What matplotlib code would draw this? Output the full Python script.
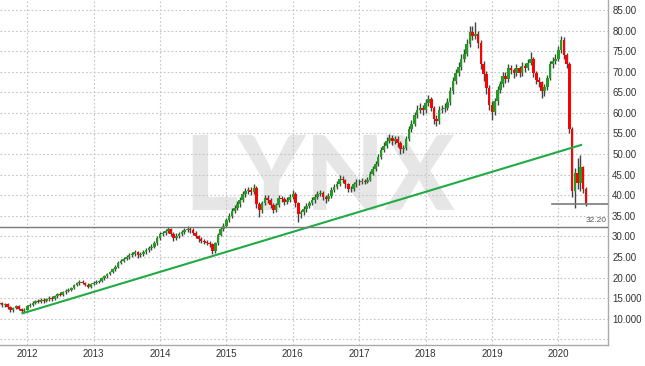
import matplotlib
matplotlib.use("Agg")
import matplotlib.pyplot as plt
import numpy as np
import pandas as pd

plt.rcParams["font.family"] = ["Liberation Sans", "DejaVu Sans"]

# ---- data (semi-monthly candles, Aug 2011 .. May 2020) ----
first_open = 13.5
closes = [13.8, 13.2, 13.6, 12.8, 12.0, 12.6, 13.1, 12.4, 11.8, 12.2,
          13.1, 13.4, 13.9, 14.3, 14.0, 14.6, 14.2, 14.7, 15.1, 14.8,
          15.4, 16.0, 15.7, 16.5, 16.7, 17.0, 17.4, 18.2, 18.6, 19.0,
          18.7, 18.3, 17.8, 18.4, 18.7, 18.9, 19.1, 19.8, 20.3, 20.8,
          21.3, 22.0, 22.6, 23.5, 24.1, 24.6, 24.9, 25.5, 25.6, 26.1,
          25.4, 25.6, 26.2, 26.6, 27.2, 27.5, 28.3, 29.5, 30.5, 30.8,
          31.2, 31.7, 30.6, 29.6, 30.2, 30.5, 31.0, 31.5, 31.8, 31.6,
          30.9, 30.0, 29.3, 28.9, 28.7, 28.4, 28.2, 26.5, 28.3, 30.4,
          31.8, 32.6, 33.9, 35.0, 36.2, 37.0, 37.8, 38.8, 40.2, 40.9,
          41.3, 40.8, 41.8, 37.8, 36.4, 38.0, 39.4, 38.9, 37.6, 36.4,
          37.6, 39.3, 39.0, 38.3, 38.9, 39.6, 40.4, 38.0, 35.4, 35.8,
          36.6, 37.3, 38.0, 38.8, 39.5, 40.3, 40.5, 39.6, 39.0, 39.8,
          41.2, 42.0, 42.6, 44.0, 43.6, 42.6, 41.6, 41.6, 42.6, 43.3,
          43.2, 43.4, 43.3, 43.8, 45.2, 46.4, 47.6, 49.3, 51.0, 52.0,
          53.2, 53.9, 53.1, 53.7, 52.6, 51.2, 51.5, 53.6, 56.0, 57.3,
          59.4, 60.8, 61.2, 60.6, 62.4, 63.4, 61.2, 58.6, 58.0, 60.8,
          61.0, 61.3, 62.6, 65.2, 67.8, 69.6, 71.2, 73.2, 74.4, 76.8,
          79.6, 78.8, 79.2, 77.0, 71.8, 69.4, 66.0, 62.0, 60.2, 62.8,
          65.6, 66.9, 69.0, 68.2, 70.8, 70.4, 69.6, 70.9, 69.8, 71.4,
          71.0, 72.2, 73.2, 69.6, 68.1, 67.4, 65.2, 66.2, 68.4, 71.8,
          72.6, 73.2, 75.2, 77.8, 74.0, 72.0, 56.0, 41.0, 45.5, 43.0,
          46.8, 41.5, 37.8]
highs = [14.2, 14.1, 13.9, 13.8, 13.0, 12.9, 13.4, 13.3, 12.6, 12.5,
         13.3, 13.8, 14.2, 14.6, 14.7, 14.9, 14.9, 15.0, 15.5, 15.4,
         15.7, 16.3, 16.4, 16.8, 17.1, 17.4, 17.8, 18.5, 19.0, 19.4,
         19.5, 19.0, 18.6, 18.7, 19.1, 19.3, 19.5, 20.2, 20.7, 21.2,
         21.7, 22.4, 23.0, 23.9, 24.6, 25.1, 25.4, 26.0, 26.2, 26.7,
         26.5, 26.1, 26.7, 27.1, 27.7, 28.1, 28.8, 30.0, 31.0, 31.4,
         31.9, 32.3, 32.0, 31.0, 30.7, 31.1, 31.6, 32.1, 32.4, 32.3,
         32.0, 31.3, 30.4, 29.8, 29.4, 29.2, 28.9, 28.5, 28.7, 30.8,
         32.3, 33.2, 34.5, 35.6, 36.9, 37.7, 38.5, 39.5, 41.0, 41.7,
         42.1, 42.0, 42.6, 42.2, 38.4, 38.6, 40.1, 40.0, 39.3, 38.0,
         38.2, 40.0, 39.9, 39.5, 39.6, 40.3, 41.2, 40.8, 38.3, 36.5,
         37.3, 38.0, 38.7, 39.5, 40.2, 41.0, 41.3, 41.0, 40.0, 40.5,
         41.9, 42.8, 43.4, 44.8, 44.6, 44.0, 43.0, 42.3, 43.3, 44.0,
         43.9, 44.1, 44.0, 44.5, 45.9, 47.2, 48.4, 50.1, 51.8, 52.9,
         54.1, 54.9, 54.6, 54.5, 54.3, 53.1, 52.3, 54.4, 56.9, 58.3,
         60.3, 61.8, 62.3, 62.0, 63.4, 64.4, 63.9, 61.6, 59.4, 61.6,
         62.0, 62.3, 63.6, 66.2, 68.8, 70.7, 72.3, 74.3, 75.6, 78.0,
         81.0, 81.2, 82.0, 80.0, 77.6, 72.6, 70.2, 66.8, 62.8, 63.6,
         66.5, 67.8, 70.0, 69.9, 71.8, 71.6, 71.0, 71.9, 71.4, 72.4,
         72.2, 73.2, 74.8, 73.6, 70.2, 68.8, 67.8, 67.0, 69.2, 72.6,
         73.6, 74.2, 76.2, 78.8, 78.4, 74.6, 72.4, 56.5, 46.5, 49.0,
         49.8, 47.2, 42.0]
lows = [13.1, 12.9, 12.8, 12.4, 11.6, 11.7, 12.3, 12.1, 11.4, 11.5,
        12.0, 12.9, 13.1, 13.6, 13.7, 13.8, 13.9, 14.0, 14.4, 14.4,
        14.6, 15.1, 15.4, 15.5, 16.1, 16.4, 16.8, 17.2, 17.9, 18.3,
        18.4, 17.9, 17.4, 17.5, 18.1, 18.4, 18.6, 18.9, 19.5, 20.0,
        20.5, 21.0, 21.7, 22.3, 23.2, 23.7, 24.2, 24.5, 25.0, 25.2,
        24.8, 24.9, 25.2, 25.8, 26.2, 26.8, 27.1, 28.0, 29.1, 30.0,
        30.3, 30.8, 30.0, 28.9, 29.0, 29.7, 30.0, 30.6, 31.0, 30.9,
        30.4, 29.5, 28.7, 28.3, 28.1, 27.8, 27.5, 25.6, 26.0, 28.0,
        30.0, 31.3, 32.2, 33.4, 34.5, 35.6, 36.5, 37.2, 38.3, 39.6,
        40.2, 40.0, 40.3, 37.0, 34.8, 35.7, 37.5, 38.1, 36.9, 35.6,
        35.9, 37.1, 38.3, 37.5, 37.8, 38.4, 39.0, 37.2, 33.6, 34.5,
        35.2, 36.0, 36.8, 37.5, 38.2, 39.0, 39.7, 38.8, 38.0, 38.5,
        39.4, 40.7, 41.5, 42.2, 42.9, 41.8, 40.8, 40.7, 41.0, 42.1,
        42.5, 42.6, 42.6, 42.9, 43.4, 44.8, 45.9, 47.1, 48.8, 50.4,
        51.4, 52.6, 52.2, 52.4, 51.6, 50.0, 50.2, 51.0, 53.1, 55.4,
        56.8, 58.8, 60.0, 59.6, 59.9, 61.7, 60.4, 57.2, 56.8, 57.4,
        60.0, 60.2, 60.8, 62.0, 64.6, 67.0, 68.9, 70.5, 72.4, 73.8,
        76.0, 77.8, 77.9, 75.8, 70.6, 67.8, 64.6, 60.6, 58.2, 59.4,
        62.0, 64.8, 66.2, 67.2, 67.6, 69.4, 68.4, 68.9, 68.7, 69.0,
        70.0, 70.3, 71.6, 68.6, 67.0, 66.2, 63.6, 64.2, 65.6, 67.9,
        71.0, 71.8, 72.6, 74.6, 73.2, 70.8, 55.0, 39.5, 37.0, 41.5,
        41.0, 40.5, 37.4]

year_ticks = [2012, 2013, 2014, 2015, 2016, 2017, 2018, 2019, 2020]
y_ticks = [5, 10, 15, 20, 25, 30, 35, 40, 45, 50, 55, 60, 65, 70, 75, 80, 85]
y_tick_labels = ["", "10.000", "15.000", "20.00", "25.00", "30.00", "35.00",
                 "40.00", "45.00", "50.00", "55.00", "60.00", "65.00",
                 "70.00", "75.00", "80.00", "85.00"]

trend_x = [2011.93, 2020.34]
trend_y = [11.3, 52.2]
support_level = 32.20
recent_low = 37.8
recent_low_x = [2019.90, 2020.74]

# ---- derived positions ----
dates = pd.date_range("2011-08-01", periods=len(closes), freq="SMS")
xd = np.array([d.year + (d.dayofyear - 1) / (366 if d.is_leap_year else 365)
               for d in dates])
c = np.array(closes)
o = np.concatenate([[first_open], c[:-1]])
h = np.maximum(np.array(highs), np.maximum(o, c))
l = np.minimum(np.array(lows), np.minimum(o, c))

fig = plt.figure(figsize=(6.45, 3.66), dpi=100)
ax = fig.add_axes([0.0, 1 - 345 / 366, 608 / 645, 345 / 366])
ax.set_xlim(2011.59, 2020.746)
ax.set_ylim(3.6, 87.43)

# watermark
ax.text(0.526, 0.478, "LYNX", transform=ax.transAxes, ha="center",
        va="center", fontsize=74, fontweight=900, color="#e6e6e6",
        family=["Lato", "Roboto", "Liberation Sans"], zorder=0.5)

ax.grid(True, which="major", color="#c4c4c4", linestyle=(0, (1.5, 2)),
        linewidth=0.8, zorder=1)
ax.set_axisbelow(False)

# candles
up = c >= o
ax.vlines(xd, l, h, color="#444444", linewidth=1.0, zorder=3)
ax.bar(xd[up], (c - o)[up], bottom=o[up], width=0.04, color="#1f9e1f",
       linewidth=0, zorder=4)
ax.bar(xd[~up], (o - c)[~up], bottom=c[~up], width=0.04, color="#ff0000",
       linewidth=0, zorder=4)

# lines
ax.plot(trend_x, trend_y, color="#22aa44", linewidth=1.5, zorder=5)
ax.axhline(support_level, color="#7a7a7a", linewidth=1.0, zorder=5)
ax.text(2020.72, support_level + 0.9, f"{support_level:.2f}", ha="right",
        va="bottom", fontsize=6, color="#555555", zorder=6)
ax.plot(recent_low_x, [recent_low, recent_low], color="#7a7a7a",
        linewidth=1.2, zorder=5)

ax.set_xticks(year_ticks)
ax.set_xticklabels([str(y) for y in year_ticks])
ax.set_yticks(y_ticks)
ax.set_yticklabels(y_tick_labels)
ax.yaxis.tick_right()
ax.tick_params(axis="both", length=0, labelsize=7, colors="#333333")
ax.tick_params(axis="y", pad=3)
ax.tick_params(axis="x", pad=3)

for side in ["top", "left"]:
    ax.spines[side].set_visible(False)
for side in ["right", "bottom"]:
    ax.spines[side].set_color("#aaaaaa")
    ax.spines[side].set_linewidth(1.0)

fig.savefig("out.png", dpi=100, facecolor="white")
